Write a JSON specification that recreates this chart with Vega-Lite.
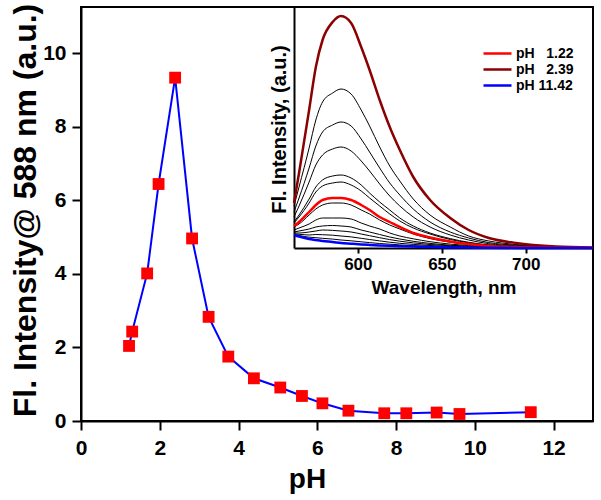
{
  "$schema": "https://vega.github.io/schema/vega-lite/v6.json",
  "width": 512,
  "height": 414,
  "autosize": "none",
  "padding": {"left": 81, "top": 7, "right": 8, "bottom": 79},
  "config": {
    "view": {"stroke": "black", "strokeWidth": 2},
    "font": "Liberation Sans",
    "axis": {
      "labelFont": "Liberation Sans", "titleFont": "Liberation Sans",
      "labelFontWeight": "bold", "titleFontWeight": "bold",
      "labelColor": "black", "titleColor": "black",
      "domainColor": "black", "tickColor": "black",
      "domainWidth": 2, "tickWidth": 2, "grid": false, "labelFlush": false
    }
  },
  "datasets": {
    "ph": [
      {"pH": 1.22, "I": 2.04}, {"pH": 1.30, "I": 2.43}, {"pH": 1.68, "I": 4.01},
      {"pH": 1.97, "I": 6.44}, {"pH": 2.39, "I": 9.33}, {"pH": 2.82, "I": 4.96},
      {"pH": 3.24, "I": 2.83}, {"pH": 3.74, "I": 1.75}, {"pH": 4.39, "I": 1.16},
      {"pH": 5.06, "I": 0.91}, {"pH": 5.61, "I": 0.68}, {"pH": 6.13, "I": 0.48},
      {"pH": 6.79, "I": 0.28}, {"pH": 7.70, "I": 0.21}, {"pH": 8.26, "I": 0.21},
      {"pH": 9.03, "I": 0.23}, {"pH": 9.61, "I": 0.19}, {"pH": 11.42, "I": 0.24}
    ],
    "spec": [
      {"w": 562, "maroon": 45, "k1": 42, "k2": 36, "k3": 31, "k4": 26, "k5": 25, "red": 22, "k6": 21, "k7": 18, "k8": 16, "k9": 15, "k10": 14, "k11": 13.6, "blue": 13},
      {"w": 565, "maroon": 75, "k1": 61, "k2": 50, "k3": 42, "k4": 33, "k5": 31, "red": 26, "k6": 24, "k7": 20, "k8": 17, "k9": 15, "k10": 13.7, "k11": 12.5, "blue": 11.5},
      {"w": 571, "maroon": 138, "k1": 100, "k2": 80, "k3": 66, "k4": 49, "k5": 45, "red": 36, "k6": 33, "k7": 24, "k8": 19, "k9": 16, "k10": 13, "k11": 10.8, "blue": 9},
      {"w": 575, "maroon": 181, "k1": 128, "k2": 102, "k3": 83, "k4": 61, "k5": 56, "red": 43, "k6": 39, "k7": 28, "k8": 21, "k9": 17, "k10": 13.5, "k11": 10.3, "blue": 8},
      {"w": 579, "maroon": 208, "k1": 146, "k2": 116, "k3": 93, "k4": 68, "k5": 62, "red": 48, "k6": 43, "k7": 30, "k8": 22, "k9": 18, "k10": 13.3, "k11": 9.7, "blue": 7},
      {"w": 585, "maroon": 226, "k1": 155, "k2": 123, "k3": 99, "k4": 72, "k5": 65, "red": 50, "k6": 45, "k7": 30, "k8": 22.5, "k9": 17.6, "k10": 12.8, "k11": 8.9, "blue": 6},
      {"w": 590, "maroon": 232, "k1": 159, "k2": 126, "k3": 101, "k4": 73, "k5": 66, "red": 50, "k6": 45, "k7": 30, "k8": 22, "k9": 17, "k10": 12, "k11": 8, "blue": 5},
      {"w": 596, "maroon": 225, "k1": 154, "k2": 122, "k3": 97, "k4": 70, "k5": 63, "red": 48, "k6": 43, "k7": 29, "k8": 21, "k9": 16, "k10": 11.1, "k11": 7.2, "blue": 4.3},
      {"w": 602, "maroon": 201, "k1": 138, "k2": 109, "k3": 87, "k4": 63, "k5": 57, "red": 43, "k6": 38, "k7": 25, "k8": 18, "k9": 14, "k10": 9.7, "k11": 6.2, "blue": 3.6},
      {"w": 607, "maroon": 178, "k1": 122, "k2": 96, "k3": 77, "k4": 55, "k5": 50, "red": 38, "k6": 34, "k7": 22, "k8": 16, "k9": 12.3, "k10": 8.5, "k11": 5.4, "blue": 3.1},
      {"w": 613, "maroon": 148, "k1": 101, "k2": 80, "k3": 64, "k4": 46, "k5": 42, "red": 31, "k6": 28, "k7": 19, "k8": 13.5, "k9": 10.3, "k10": 7.1, "k11": 4.5, "blue": 2.6},
      {"w": 619, "maroon": 121, "k1": 82, "k2": 65, "k3": 52, "k4": 38, "k5": 34, "red": 26, "k6": 23, "k7": 15, "k8": 11, "k9": 8.4, "k10": 5.8, "k11": 3.8, "blue": 2.2},
      {"w": 625, "maroon": 98, "k1": 67, "k2": 53, "k3": 42, "k4": 30, "k5": 27, "red": 21, "k6": 19, "k7": 12, "k8": 9, "k9": 6.8, "k10": 4.7, "k11": 3.1, "blue": 1.8},
      {"w": 633, "maroon": 71, "k1": 49, "k2": 39, "k3": 31, "k4": 22, "k5": 20, "red": 15, "k6": 14, "k7": 9.2, "k8": 6.7, "k9": 5.1, "k10": 3.6, "k11": 2.3, "blue": 1.4},
      {"w": 643, "maroon": 48, "k1": 33, "k2": 26, "k3": 21, "k4": 15, "k5": 14, "red": 10.5, "k6": 9.4, "k7": 6.3, "k8": 4.6, "k9": 3.5, "k10": 2.5, "k11": 1.6, "blue": 1},
      {"w": 655, "maroon": 30, "k1": 21, "k2": 16, "k3": 13, "k4": 9.4, "k5": 8.5, "red": 6.5, "k6": 5.8, "k7": 3.9, "k8": 2.8, "k9": 2.2, "k10": 1.5, "k11": 1, "blue": 0.6},
      {"w": 666, "maroon": 18, "k1": 12, "k2": 10, "k3": 8, "k4": 5.7, "k5": 5.2, "red": 3.9, "k6": 3.5, "k7": 2.4, "k8": 1.7, "k9": 1.3, "k10": 0.9, "k11": 0.6, "blue": 0.4},
      {"w": 678, "maroon": 10, "k1": 7, "k2": 5.4, "k3": 4.3, "k4": 3.1, "k5": 2.8, "red": 2.1, "k6": 1.9, "k7": 1.3, "k8": 0.9, "k9": 0.7, "k10": 0.5, "k11": 0.3, "blue": 0.2},
      {"w": 694, "maroon": 5, "k1": 3.5, "k2": 2.8, "k3": 2.2, "k4": 1.6, "k5": 1.4, "red": 1.1, "k6": 1, "k7": 0.7, "k8": 0.5, "k9": 0.4, "k10": 0.3, "k11": 0.2, "blue": 0.1},
      {"w": 718, "maroon": 1.5, "k1": 1, "k2": 0.7, "k3": 0.6, "k4": 0.4, "k5": 0.4, "red": 0.3, "k6": 0.2, "k7": 0.2, "k8": 0.1, "k9": 0.1, "k10": 0, "k11": 0, "blue": 0},
      {"w": 740, "maroon": 0.5, "k1": 0.3, "k2": 0.2, "k3": 0.2, "k4": 0.1, "k5": 0.1, "red": 0.1, "k6": 0.1, "k7": 0, "k8": 0, "k9": 0, "k10": 0, "k11": 0, "blue": 0}
    ]
  },
  "layer": [
    {
      "data": {"name": "ph"},
      "encoding": {
        "x": {"field": "pH", "type": "quantitative",
          "scale": {"domain": [0, 13], "nice": false},
          "axis": {"values": [0, 2, 4, 6, 8, 10, 12], "title": "pH", "titleFontSize": 28, "labelFontSize": 21, "tickSize": 9, "labelPadding": 7, "titleX": 226, "titleY": 66, "titleAlign": "center", "titleBaseline": "alphabetic", "titleAngle": 0}},
        "y": {"field": "I", "type": "quantitative",
          "scale": {"domain": [0, 11.25], "nice": false},
          "axis": {"values": [0, 2, 4, 6, 8, 10], "title": "Fl. Intensity@ 588 nm (a.u.)", "titleFontSize": 32, "labelFontSize": 21, "tickSize": 9, "labelPadding": 6, "titleX": -46, "titleY": 203, "titleAngle": -90, "titleAlign": "center", "titleBaseline": "alphabetic"}}
      },
      "layer": [
        {"mark": {"type": "line", "color": "#0000ff", "strokeWidth": 2}},
        {"mark": {"type": "point", "shape": "square", "filled": true, "color": "#ff0000", "size": 140, "opacity": 1}}
      ]
    },
    {
      "data": {"name": "spec"},
      "encoding": {
        "x": {"field": "w", "type": "quantitative",
          "scale": {"domain": [562, 740], "range": [213, 512], "nice": false},
          "axis": {"orient": "bottom", "offset": -173, "values": [600, 650, 700], "title": "Wavelength, nm", "titleFontSize": 19, "labelFontSize": 17, "tickSize": 5, "labelPadding": 3, "titleX": 362.5, "titleY": 45, "titleAlign": "center", "titleBaseline": "alphabetic"}},
        "y": {"field": "v", "type": "quantitative",
          "scale": {"domain": [0, 241], "range": [241, 0], "nice": false},
          "axis": {"orient": "left", "offset": -213, "ticks": false, "labels": false, "title": "Fl. Intensity, (a.u.)", "titleFontSize": 20, "titleX": -9, "titleY": 122, "titleAngle": -90, "titleAlign": "center", "titleBaseline": "alphabetic"}}
      },
      "layer": [
        {
          "transform": [{"fold": ["k1", "k2", "k3", "k4", "k5", "k6", "k7", "k8", "k9", "k10", "k11"], "as": ["curve", "v"]}],
          "mark": {"type": "line", "color": "black", "strokeWidth": 1, "interpolate": "monotone"},
          "encoding": {"detail": {"field": "curve"}}
        },
        {
          "transform": [{"fold": ["maroon", "red", "blue"], "as": ["curve", "v"]}],
          "mark": {"type": "line", "strokeWidth": 2.5, "interpolate": "monotone"},
          "encoding": {
            "color": {"field": "curve", "type": "nominal",
              "scale": {"domain": ["red", "maroon", "blue"], "range": ["#ff0000", "#8b0000", "#0000ff"]},
              "legend": {"orient": "none", "legendX": 408, "legendY": 38, "title": null, "symbolType": "M-2,0H2", "symbolSize": 196, "symbolStrokeWidth": 2.5, "symbolFillColor": "transparent", "labelFontSize": 14, "labelFontWeight": "bold", "labelColor": "black", "labelFont": "Liberation Sans", "labelOffset": 10, "rowPadding": 0,
                "labelExpr": "datum.value == 'red' ? 'pH\u00a0\u00a0\u00a01.22' : datum.value == 'maroon' ? 'pH\u00a0\u00a0\u00a02.39' : 'pH\u00a011.42'"}}
          }
        }
      ]
    }
  ],
  "resolve": {"scale": {"x": "independent", "y": "independent"}, "axis": {"x": "independent", "y": "independent"}}
}
